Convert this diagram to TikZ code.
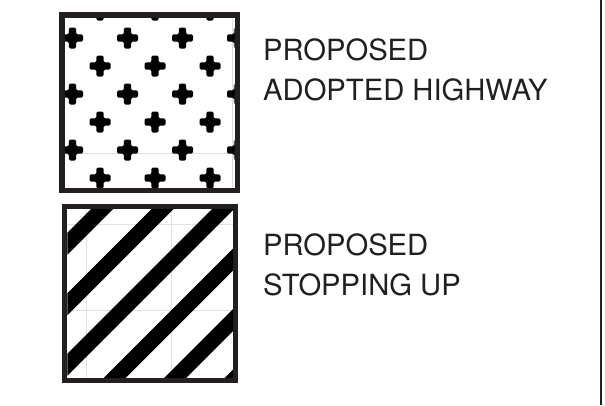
\documentclass[tikz,border=0pt]{standalone}
\usepackage{fontspec}
\usepackage{xcolor}
\newfontfamily\legendfont{TeX Gyre Heros}
\definecolor{inkgray}{HTML}{231F20}
\usetikzlibrary{positioning, calc}

\begin{document}
\begin{tikzpicture}[
	x=1pt, y=-1pt,
	% --- Styles ---
	boxslot/.style={
		rectangle, inner sep=0pt, outer sep=0pt
	},
	boxframe/.style={
		draw=inkgray, line width=5.5pt
	},
	crossmark/.style={
		fill=black
	},
	faintline/.style={
		draw=black!12, line width=0.8pt
	},
	legendtext/.style={
		font=\legendfont\fontsize{29.2}{40}\selectfont, text=inkgray,
		align=left, inner sep=0pt, anchor=north west
	},
	edgeline/.style={
		draw=inkgray, line width=1.5pt
	}
	]
	
	% --- 0. Page size ---
	\useasboundingbox (0,0) rectangle (605,405);
	
	% --- 1. Box slots ---
	\node [boxslot, minimum width=175.5pt, minimum height=175.5pt] (adopted_box) at (149.5,102.5) {};
	\node [boxslot, minimum width=171pt, minimum height=174pt] (stopping_box) at (150,293.5) {};
	
	% --- 2. Crosses (Adopted Highway) ---
	\begin{scope}
		\clip ($(adopted_box.north west)+(2.75,2.75)$) rectangle ($(adopted_box.south east)+(-2.75,-2.75)$);
		% faint sheet lines
		\draw [faintline] (232,10) -- (232,195);
		\draw [faintline] (60,153) -- (232,153);
		% rows alternate between two column sets
		\foreach \row in {0,...,6}{
			\pgfmathsetmacro{\ypos}{10+28*\row}
			\pgfmathsetmacro{\xoff}{mod(\row,2)==0 ? 100 : 72.5}
			\foreach \col in {0,...,3}{
				\pgfmathsetmacro{\xpos}{\xoff+55*\col}
				\fill [crossmark] (\xpos,\ypos) circle (6.2);
				\fill [crossmark, rounded corners=1.5pt] (\xpos-10.5,\ypos-3.6) rectangle (\xpos+10.5,\ypos+3.6);
				\fill [crossmark, rounded corners=1.5pt] (\xpos-3.6,\ypos-10.5) rectangle (\xpos+3.6,\ypos+10.5);
			}
		}
	\end{scope}
	\draw [boxframe] (adopted_box.north west) rectangle (adopted_box.south east);
	
	% --- 3. Stripes (Stopping Up) ---
	\begin{scope}
		\clip ($(stopping_box.north west)+(2.75,2.75)$) rectangle ($(stopping_box.south east)+(-2.75,-2.75)$);
		% faint sheet lines
		\draw [faintline] (86,200) -- (86,390);
		\draw [faintline] (171,200) -- (171,390);
		\draw [faintline] (60,224) -- (240,224);
		\draw [faintline] (60,310) -- (240,310);
		% stripes along x+y=c
		\foreach \k in {-1,...,5}{
			\pgfmathsetmacro{\c}{300+60.5*\k}
			\fill [black] (\c-190,190) -- (\c+22-190,190) -- (\c+22-400,400) -- (\c-400,400) -- cycle;
		}
	\end{scope}
	\draw [boxframe] (stopping_box.north west) rectangle (stopping_box.south east);
	
	% --- 4. Labels ---
	\node [legendtext] (adopted_text) at (263,38) {PROPOSED\\ADOPTED HIGHWAY};
	\node [legendtext] (stopping_text) at (263,233) {PROPOSED\\STOPPING UP};
	
	% --- 5. Right edge ---
	\draw [edgeline] (601,0) -- (601,405);
	
\end{tikzpicture}
\end{document}
